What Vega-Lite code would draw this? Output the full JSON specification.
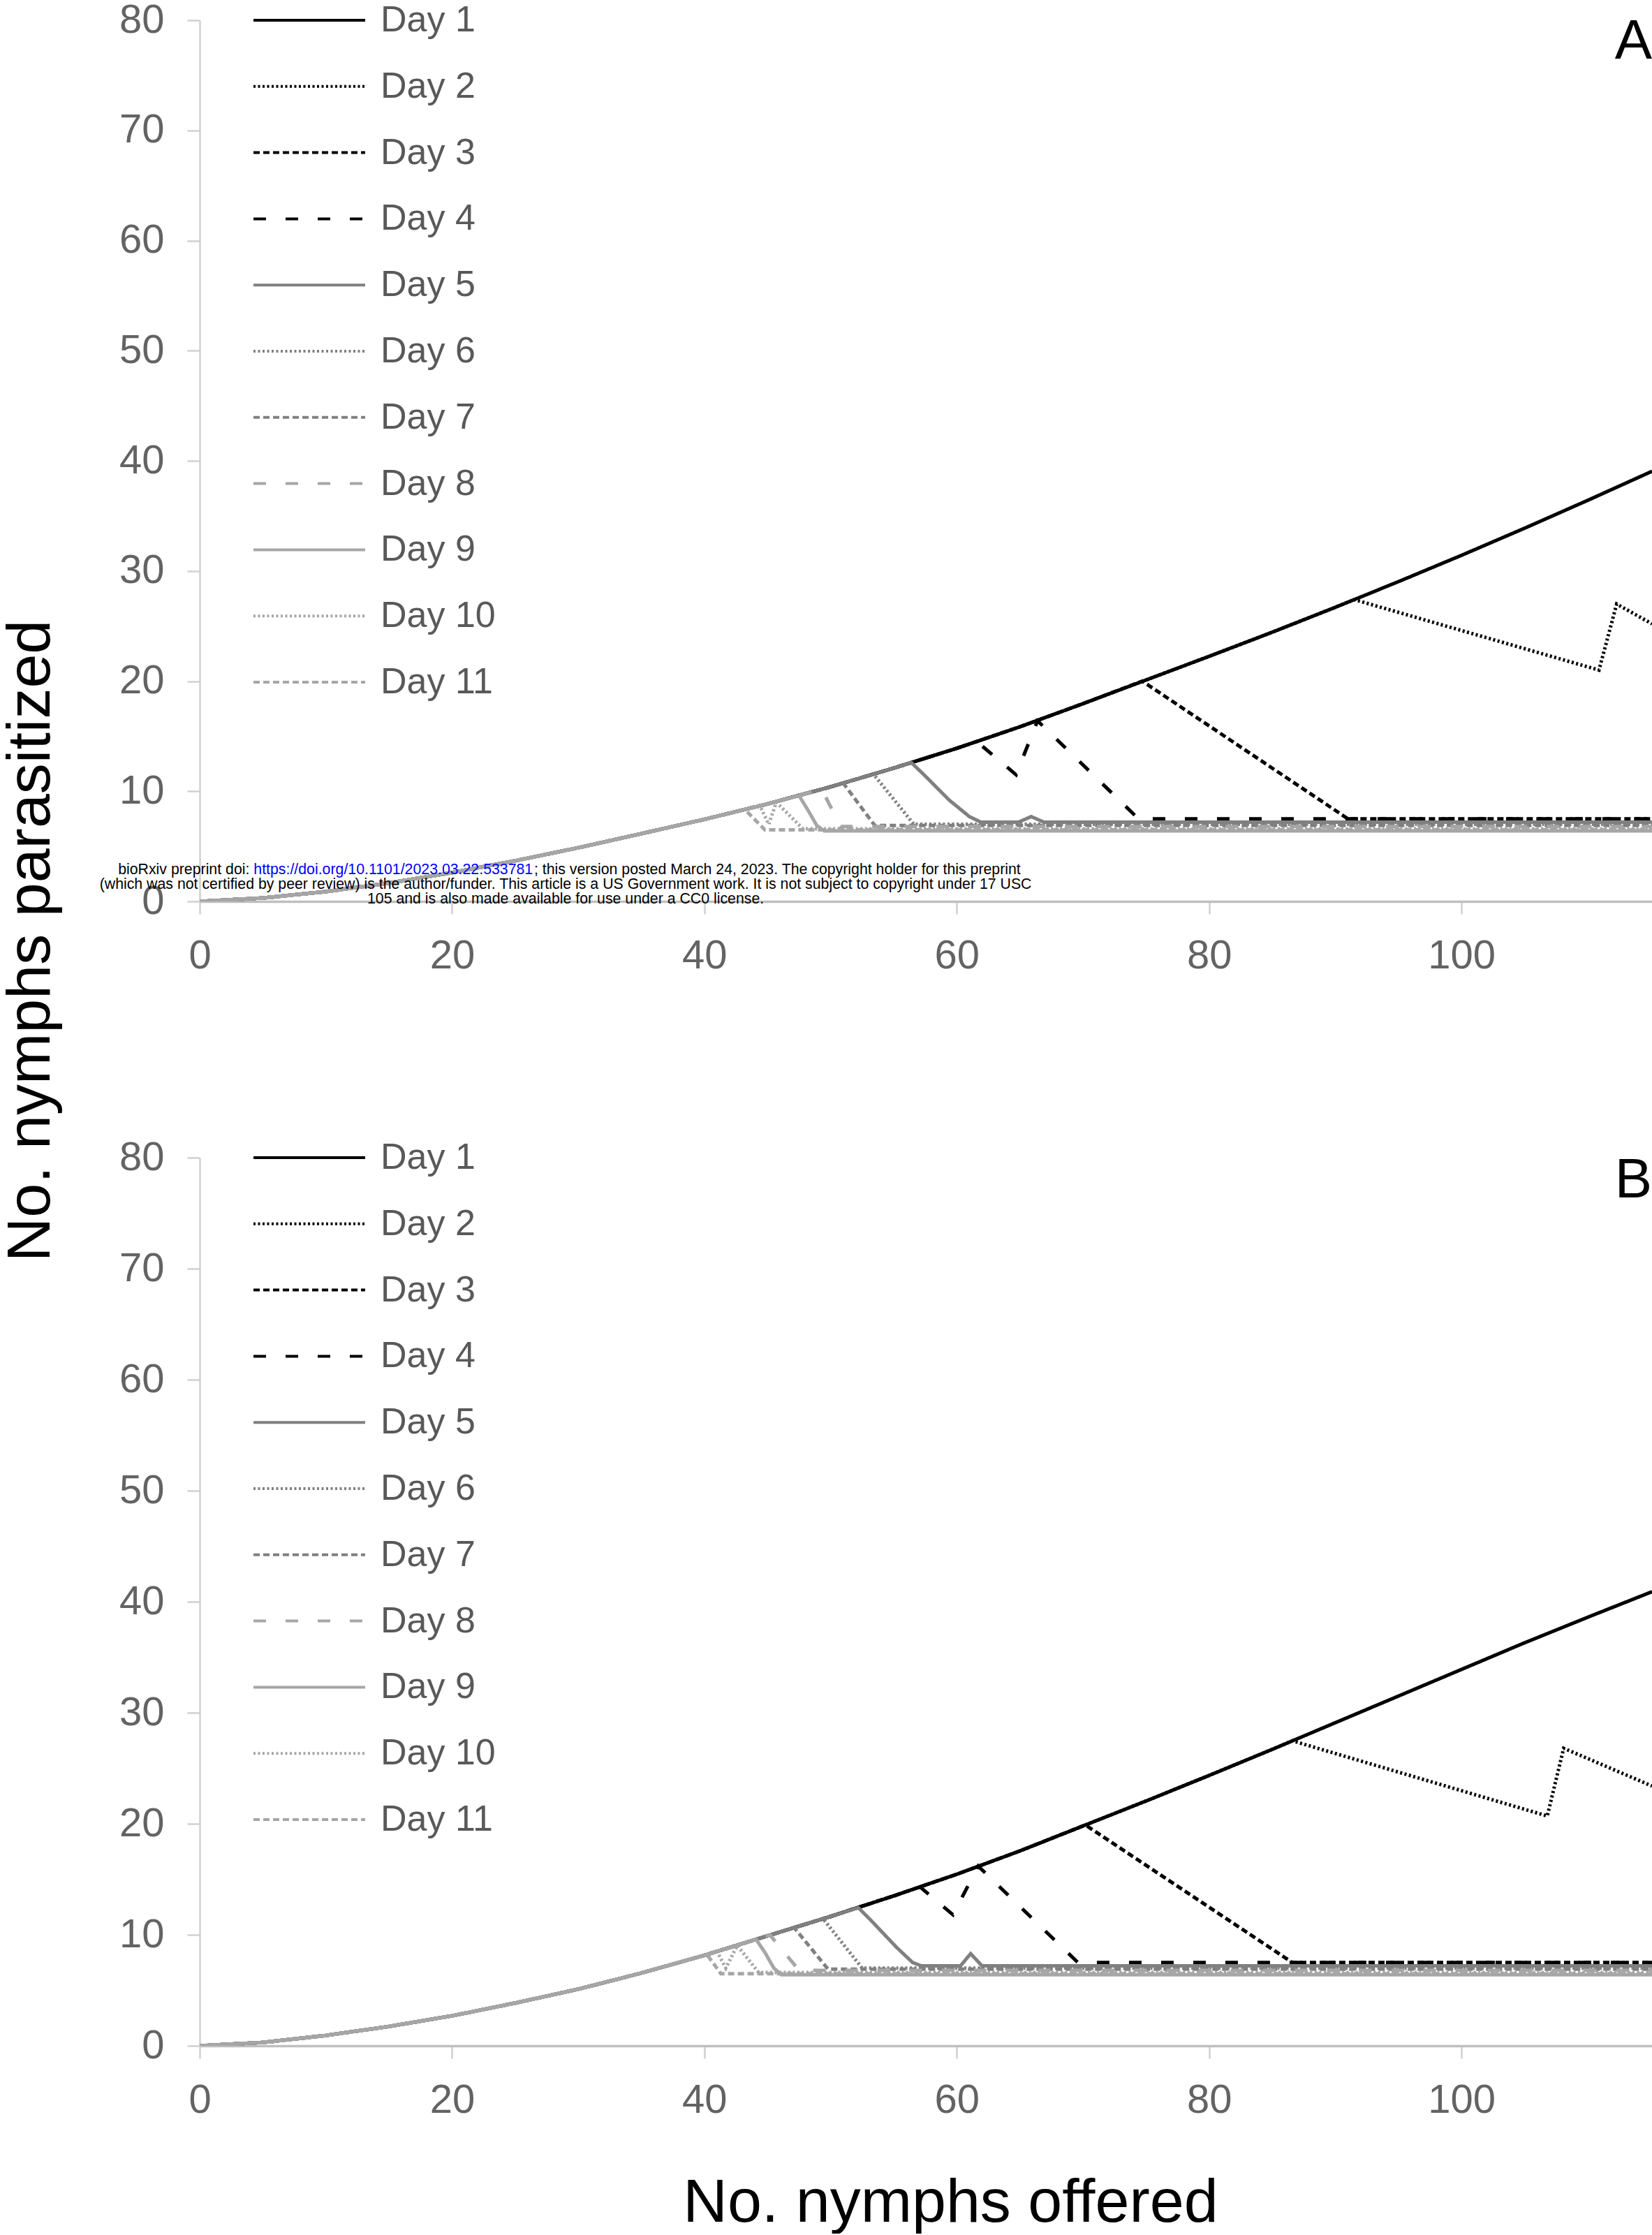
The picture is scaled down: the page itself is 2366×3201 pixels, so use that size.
{
  "$schema": "https://vega.github.io/schema/vega-lite/v6.json",
  "background": "white",
  "padding": 0,
  "autosize": {"type": "pad"},
  "config": {
    "font": "Liberation Sans",
    "view": {"stroke": null},
    "axis": {"grid": false, "labelFont": "Liberation Sans", "labelFontSize": 58, "labelColor": "#636363", "tickSize": 18, "tickColor": "#d0d0d0", "tickWidth": 2.5, "domainColor": "#d0d0d0", "domainWidth": 2.5, "titleFont": "Liberation Sans", "titleFontSize": 88, "titleFontWeight": "normal", "titleColor": "#000000", "labelFlush": false}
  },
  "datasets": {
    "series": [
      {"panel":"A","day":"Day 1","x":0,"y":0},{"panel":"A","day":"Day 1","x":5,"y":0.31},{"panel":"A","day":"Day 1","x":10,"y":0.89},{"panel":"A","day":"Day 1","x":15,"y":1.67},{"panel":"A","day":"Day 1","x":20,"y":2.61},{"panel":"A","day":"Day 1","x":25,"y":3.69},{"panel":"A","day":"Day 1","x":30,"y":4.87},{"panel":"A","day":"Day 1","x":35,"y":6.15},{"panel":"A","day":"Day 1","x":40,"y":7.45},{"panel":"A","day":"Day 1","x":45,"y":8.85},{"panel":"A","day":"Day 1","x":50,"y":10.4},{"panel":"A","day":"Day 1","x":55,"y":12.1},{"panel":"A","day":"Day 1","x":60,"y":13.9},{"panel":"A","day":"Day 1","x":65,"y":15.85},{"panel":"A","day":"Day 1","x":70,"y":17.95},{"panel":"A","day":"Day 1","x":75,"y":20.1},{"panel":"A","day":"Day 1","x":80,"y":22.25},{"panel":"A","day":"Day 1","x":85,"y":24.44},{"panel":"A","day":"Day 1","x":90,"y":26.7},{"panel":"A","day":"Day 1","x":95,"y":29.03},{"panel":"A","day":"Day 1","x":100,"y":31.42},{"panel":"A","day":"Day 1","x":105,"y":33.88},{"panel":"A","day":"Day 1","x":110,"y":36.41},{"panel":"A","day":"Day 1","x":115.1,"y":39.05},

      {"panel":"A","day":"Day 2","x":0,"y":0},{"panel":"A","day":"Day 2","x":5,"y":0.31},{"panel":"A","day":"Day 2","x":10,"y":0.89},{"panel":"A","day":"Day 2","x":15,"y":1.67},{"panel":"A","day":"Day 2","x":20,"y":2.61},{"panel":"A","day":"Day 2","x":25,"y":3.69},{"panel":"A","day":"Day 2","x":30,"y":4.87},{"panel":"A","day":"Day 2","x":35,"y":6.15},{"panel":"A","day":"Day 2","x":40,"y":7.45},{"panel":"A","day":"Day 2","x":45,"y":8.85},{"panel":"A","day":"Day 2","x":50,"y":10.4},{"panel":"A","day":"Day 2","x":55,"y":12.1},{"panel":"A","day":"Day 2","x":60,"y":13.9},{"panel":"A","day":"Day 2","x":65,"y":15.85},{"panel":"A","day":"Day 2","x":70,"y":17.95},{"panel":"A","day":"Day 2","x":75,"y":20.1},{"panel":"A","day":"Day 2","x":80,"y":22.25},{"panel":"A","day":"Day 2","x":85,"y":24.44},{"panel":"A","day":"Day 2","x":90,"y":26.7},{"panel":"A","day":"Day 2","x":91.5,"y":27.4},{"panel":"A","day":"Day 2","x":110.9,"y":21.0},{"panel":"A","day":"Day 2","x":112.3,"y":27.0},{"panel":"A","day":"Day 2","x":115.1,"y":25.2},

      {"panel":"A","day":"Day 3","x":0,"y":0},{"panel":"A","day":"Day 3","x":5,"y":0.31},{"panel":"A","day":"Day 3","x":10,"y":0.89},{"panel":"A","day":"Day 3","x":15,"y":1.67},{"panel":"A","day":"Day 3","x":20,"y":2.61},{"panel":"A","day":"Day 3","x":25,"y":3.69},{"panel":"A","day":"Day 3","x":30,"y":4.87},{"panel":"A","day":"Day 3","x":35,"y":6.15},{"panel":"A","day":"Day 3","x":40,"y":7.45},{"panel":"A","day":"Day 3","x":45,"y":8.85},{"panel":"A","day":"Day 3","x":50,"y":10.4},{"panel":"A","day":"Day 3","x":55,"y":12.1},{"panel":"A","day":"Day 3","x":60,"y":13.9},{"panel":"A","day":"Day 3","x":65,"y":15.85},{"panel":"A","day":"Day 3","x":70,"y":17.95},{"panel":"A","day":"Day 3","x":74.7,"y":20.0},{"panel":"A","day":"Day 3","x":91.0,"y":7.5},{"panel":"A","day":"Day 3","x":115.1,"y":7.5},

      {"panel":"A","day":"Day 4","x":0,"y":0},{"panel":"A","day":"Day 4","x":5,"y":0.31},{"panel":"A","day":"Day 4","x":10,"y":0.89},{"panel":"A","day":"Day 4","x":15,"y":1.67},{"panel":"A","day":"Day 4","x":20,"y":2.61},{"panel":"A","day":"Day 4","x":25,"y":3.69},{"panel":"A","day":"Day 4","x":30,"y":4.87},{"panel":"A","day":"Day 4","x":35,"y":6.15},{"panel":"A","day":"Day 4","x":40,"y":7.45},{"panel":"A","day":"Day 4","x":45,"y":8.85},{"panel":"A","day":"Day 4","x":50,"y":10.4},{"panel":"A","day":"Day 4","x":55,"y":12.1},{"panel":"A","day":"Day 4","x":60,"y":13.9},{"panel":"A","day":"Day 4","x":61.6,"y":14.5},{"panel":"A","day":"Day 4","x":64.7,"y":11.5},{"panel":"A","day":"Day 4","x":66.4,"y":16.4},{"panel":"A","day":"Day 4","x":74.4,"y":7.5},{"panel":"A","day":"Day 4","x":115.1,"y":7.5},

      {"panel":"A","day":"Day 5","x":0,"y":0},{"panel":"A","day":"Day 5","x":5,"y":0.31},{"panel":"A","day":"Day 5","x":10,"y":0.89},{"panel":"A","day":"Day 5","x":15,"y":1.67},{"panel":"A","day":"Day 5","x":20,"y":2.61},{"panel":"A","day":"Day 5","x":25,"y":3.69},{"panel":"A","day":"Day 5","x":30,"y":4.87},{"panel":"A","day":"Day 5","x":35,"y":6.15},{"panel":"A","day":"Day 5","x":40,"y":7.45},{"panel":"A","day":"Day 5","x":45,"y":8.85},{"panel":"A","day":"Day 5","x":50,"y":10.4},{"panel":"A","day":"Day 5","x":55,"y":12.1},{"panel":"A","day":"Day 5","x":56.4,"y":12.6},{"panel":"A","day":"Day 5","x":57.4,"y":11.5},{"panel":"A","day":"Day 5","x":59.4,"y":9.2},{"panel":"A","day":"Day 5","x":61.0,"y":7.7},{"panel":"A","day":"Day 5","x":61.9,"y":7.2},{"panel":"A","day":"Day 5","x":64.9,"y":7.2},{"panel":"A","day":"Day 5","x":65.9,"y":7.7},{"panel":"A","day":"Day 5","x":66.9,"y":7.2},{"panel":"A","day":"Day 5","x":115.1,"y":7.2},

      {"panel":"A","day":"Day 6","x":0,"y":0},{"panel":"A","day":"Day 6","x":5,"y":0.31},{"panel":"A","day":"Day 6","x":10,"y":0.89},{"panel":"A","day":"Day 6","x":15,"y":1.67},{"panel":"A","day":"Day 6","x":20,"y":2.61},{"panel":"A","day":"Day 6","x":25,"y":3.69},{"panel":"A","day":"Day 6","x":30,"y":4.87},{"panel":"A","day":"Day 6","x":35,"y":6.15},{"panel":"A","day":"Day 6","x":40,"y":7.45},{"panel":"A","day":"Day 6","x":45,"y":8.85},{"panel":"A","day":"Day 6","x":50,"y":10.4},{"panel":"A","day":"Day 6","x":53.4,"y":11.55},{"panel":"A","day":"Day 6","x":56.6,"y":7.0},{"panel":"A","day":"Day 6","x":115.1,"y":7.0},

      {"panel":"A","day":"Day 7","x":0,"y":0},{"panel":"A","day":"Day 7","x":5,"y":0.31},{"panel":"A","day":"Day 7","x":10,"y":0.89},{"panel":"A","day":"Day 7","x":15,"y":1.67},{"panel":"A","day":"Day 7","x":20,"y":2.61},{"panel":"A","day":"Day 7","x":25,"y":3.69},{"panel":"A","day":"Day 7","x":30,"y":4.87},{"panel":"A","day":"Day 7","x":35,"y":6.15},{"panel":"A","day":"Day 7","x":40,"y":7.45},{"panel":"A","day":"Day 7","x":45,"y":8.85},{"panel":"A","day":"Day 7","x":50,"y":10.4},{"panel":"A","day":"Day 7","x":51.0,"y":10.74},{"panel":"A","day":"Day 7","x":53.5,"y":6.9},{"panel":"A","day":"Day 7","x":115.1,"y":6.9},

      {"panel":"A","day":"Day 8","x":0,"y":0},{"panel":"A","day":"Day 8","x":5,"y":0.31},{"panel":"A","day":"Day 8","x":10,"y":0.89},{"panel":"A","day":"Day 8","x":15,"y":1.67},{"panel":"A","day":"Day 8","x":20,"y":2.61},{"panel":"A","day":"Day 8","x":25,"y":3.69},{"panel":"A","day":"Day 8","x":30,"y":4.87},{"panel":"A","day":"Day 8","x":35,"y":6.15},{"panel":"A","day":"Day 8","x":40,"y":7.45},{"panel":"A","day":"Day 8","x":45,"y":8.85},{"panel":"A","day":"Day 8","x":49.3,"y":10.18},{"panel":"A","day":"Day 8","x":50.8,"y":6.8},{"panel":"A","day":"Day 8","x":115.1,"y":6.8},

      {"panel":"A","day":"Day 9","x":0,"y":0},{"panel":"A","day":"Day 9","x":5,"y":0.31},{"panel":"A","day":"Day 9","x":10,"y":0.89},{"panel":"A","day":"Day 9","x":15,"y":1.67},{"panel":"A","day":"Day 9","x":20,"y":2.61},{"panel":"A","day":"Day 9","x":25,"y":3.69},{"panel":"A","day":"Day 9","x":30,"y":4.87},{"panel":"A","day":"Day 9","x":35,"y":6.15},{"panel":"A","day":"Day 9","x":40,"y":7.45},{"panel":"A","day":"Day 9","x":45,"y":8.85},{"panel":"A","day":"Day 9","x":47.5,"y":9.6},{"panel":"A","day":"Day 9","x":48.2,"y":8.3},{"panel":"A","day":"Day 9","x":48.9,"y":6.9},{"panel":"A","day":"Day 9","x":49.5,"y":6.4},{"panel":"A","day":"Day 9","x":115.1,"y":6.4},

      {"panel":"A","day":"Day 10","x":0,"y":0},{"panel":"A","day":"Day 10","x":5,"y":0.31},{"panel":"A","day":"Day 10","x":10,"y":0.89},{"panel":"A","day":"Day 10","x":15,"y":1.67},{"panel":"A","day":"Day 10","x":20,"y":2.61},{"panel":"A","day":"Day 10","x":25,"y":3.69},{"panel":"A","day":"Day 10","x":30,"y":4.87},{"panel":"A","day":"Day 10","x":35,"y":6.15},{"panel":"A","day":"Day 10","x":40,"y":7.45},{"panel":"A","day":"Day 10","x":44.4,"y":8.68},{"panel":"A","day":"Day 10","x":45.1,"y":7.0},{"panel":"A","day":"Day 10","x":45.7,"y":9.0},{"panel":"A","day":"Day 10","x":47.8,"y":6.6},{"panel":"A","day":"Day 10","x":115.1,"y":6.6},

      {"panel":"A","day":"Day 11","x":0,"y":0},{"panel":"A","day":"Day 11","x":5,"y":0.31},{"panel":"A","day":"Day 11","x":10,"y":0.89},{"panel":"A","day":"Day 11","x":15,"y":1.67},{"panel":"A","day":"Day 11","x":20,"y":2.61},{"panel":"A","day":"Day 11","x":25,"y":3.69},{"panel":"A","day":"Day 11","x":30,"y":4.87},{"panel":"A","day":"Day 11","x":35,"y":6.15},{"panel":"A","day":"Day 11","x":40,"y":7.45},{"panel":"A","day":"Day 11","x":43.2,"y":8.35},{"panel":"A","day":"Day 11","x":44.8,"y":6.5},{"panel":"A","day":"Day 11","x":115.1,"y":6.5},

      {"panel":"B","day":"Day 1","x":0,"y":0},{"panel":"B","day":"Day 1","x":5,"y":0.3},{"panel":"B","day":"Day 1","x":10,"y":0.93},{"panel":"B","day":"Day 1","x":15,"y":1.74},{"panel":"B","day":"Day 1","x":20,"y":2.7},{"panel":"B","day":"Day 1","x":25,"y":3.85},{"panel":"B","day":"Day 1","x":30,"y":5.1},{"panel":"B","day":"Day 1","x":35,"y":6.55},{"panel":"B","day":"Day 1","x":40,"y":8.15},{"panel":"B","day":"Day 1","x":45,"y":9.9},{"panel":"B","day":"Day 1","x":50,"y":11.65},{"panel":"B","day":"Day 1","x":55,"y":13.5},{"panel":"B","day":"Day 1","x":60,"y":15.45},{"panel":"B","day":"Day 1","x":65,"y":17.55},{"panel":"B","day":"Day 1","x":70,"y":19.8},{"panel":"B","day":"Day 1","x":75,"y":22.05},{"panel":"B","day":"Day 1","x":80,"y":24.35},{"panel":"B","day":"Day 1","x":85,"y":26.7},{"panel":"B","day":"Day 1","x":90,"y":29.1},{"panel":"B","day":"Day 1","x":95,"y":31.5},{"panel":"B","day":"Day 1","x":100,"y":33.9},{"panel":"B","day":"Day 1","x":105,"y":36.3},{"panel":"B","day":"Day 1","x":110,"y":38.6},{"panel":"B","day":"Day 1","x":115.1,"y":40.9},

      {"panel":"B","day":"Day 2","x":0,"y":0},{"panel":"B","day":"Day 2","x":5,"y":0.3},{"panel":"B","day":"Day 2","x":10,"y":0.93},{"panel":"B","day":"Day 2","x":15,"y":1.74},{"panel":"B","day":"Day 2","x":20,"y":2.7},{"panel":"B","day":"Day 2","x":25,"y":3.85},{"panel":"B","day":"Day 2","x":30,"y":5.1},{"panel":"B","day":"Day 2","x":35,"y":6.55},{"panel":"B","day":"Day 2","x":40,"y":8.15},{"panel":"B","day":"Day 2","x":45,"y":9.9},{"panel":"B","day":"Day 2","x":50,"y":11.65},{"panel":"B","day":"Day 2","x":55,"y":13.5},{"panel":"B","day":"Day 2","x":60,"y":15.45},{"panel":"B","day":"Day 2","x":65,"y":17.55},{"panel":"B","day":"Day 2","x":70,"y":19.8},{"panel":"B","day":"Day 2","x":75,"y":22.05},{"panel":"B","day":"Day 2","x":80,"y":24.35},{"panel":"B","day":"Day 2","x":85,"y":26.7},{"panel":"B","day":"Day 2","x":86.6,"y":27.47},{"panel":"B","day":"Day 2","x":106.8,"y":20.7},{"panel":"B","day":"Day 2","x":108.1,"y":26.8},{"panel":"B","day":"Day 2","x":115.1,"y":23.4},

      {"panel":"B","day":"Day 3","x":0,"y":0},{"panel":"B","day":"Day 3","x":5,"y":0.3},{"panel":"B","day":"Day 3","x":10,"y":0.93},{"panel":"B","day":"Day 3","x":15,"y":1.74},{"panel":"B","day":"Day 3","x":20,"y":2.7},{"panel":"B","day":"Day 3","x":25,"y":3.85},{"panel":"B","day":"Day 3","x":30,"y":5.1},{"panel":"B","day":"Day 3","x":35,"y":6.55},{"panel":"B","day":"Day 3","x":40,"y":8.15},{"panel":"B","day":"Day 3","x":45,"y":9.9},{"panel":"B","day":"Day 3","x":50,"y":11.65},{"panel":"B","day":"Day 3","x":55,"y":13.5},{"panel":"B","day":"Day 3","x":60,"y":15.45},{"panel":"B","day":"Day 3","x":65,"y":17.55},{"panel":"B","day":"Day 3","x":70,"y":19.8},{"panel":"B","day":"Day 3","x":70.2,"y":19.89},{"panel":"B","day":"Day 3","x":86.6,"y":7.5},{"panel":"B","day":"Day 3","x":115.1,"y":7.5},

      {"panel":"B","day":"Day 4","x":0,"y":0},{"panel":"B","day":"Day 4","x":5,"y":0.3},{"panel":"B","day":"Day 4","x":10,"y":0.93},{"panel":"B","day":"Day 4","x":15,"y":1.74},{"panel":"B","day":"Day 4","x":20,"y":2.7},{"panel":"B","day":"Day 4","x":25,"y":3.85},{"panel":"B","day":"Day 4","x":30,"y":5.1},{"panel":"B","day":"Day 4","x":35,"y":6.55},{"panel":"B","day":"Day 4","x":40,"y":8.15},{"panel":"B","day":"Day 4","x":45,"y":9.9},{"panel":"B","day":"Day 4","x":50,"y":11.65},{"panel":"B","day":"Day 4","x":55,"y":13.5},{"panel":"B","day":"Day 4","x":57.1,"y":14.3},{"panel":"B","day":"Day 4","x":59.7,"y":11.8},{"panel":"B","day":"Day 4","x":61.7,"y":16.18},{"panel":"B","day":"Day 4","x":69.6,"y":7.5},{"panel":"B","day":"Day 4","x":115.1,"y":7.5},

      {"panel":"B","day":"Day 5","x":0,"y":0},{"panel":"B","day":"Day 5","x":5,"y":0.3},{"panel":"B","day":"Day 5","x":10,"y":0.93},{"panel":"B","day":"Day 5","x":15,"y":1.74},{"panel":"B","day":"Day 5","x":20,"y":2.7},{"panel":"B","day":"Day 5","x":25,"y":3.85},{"panel":"B","day":"Day 5","x":30,"y":5.1},{"panel":"B","day":"Day 5","x":35,"y":6.55},{"panel":"B","day":"Day 5","x":40,"y":8.15},{"panel":"B","day":"Day 5","x":45,"y":9.9},{"panel":"B","day":"Day 5","x":50,"y":11.65},{"panel":"B","day":"Day 5","x":52.2,"y":12.44},{"panel":"B","day":"Day 5","x":53.2,"y":11.3},{"panel":"B","day":"Day 5","x":55.2,"y":8.9},{"panel":"B","day":"Day 5","x":56.5,"y":7.5},{"panel":"B","day":"Day 5","x":57.2,"y":7.2},{"panel":"B","day":"Day 5","x":60.3,"y":7.2},{"panel":"B","day":"Day 5","x":61.1,"y":8.3},{"panel":"B","day":"Day 5","x":62.0,"y":7.2},{"panel":"B","day":"Day 5","x":115.1,"y":7.2},

      {"panel":"B","day":"Day 6","x":0,"y":0},{"panel":"B","day":"Day 6","x":5,"y":0.3},{"panel":"B","day":"Day 6","x":10,"y":0.93},{"panel":"B","day":"Day 6","x":15,"y":1.74},{"panel":"B","day":"Day 6","x":20,"y":2.7},{"panel":"B","day":"Day 6","x":25,"y":3.85},{"panel":"B","day":"Day 6","x":30,"y":5.1},{"panel":"B","day":"Day 6","x":35,"y":6.55},{"panel":"B","day":"Day 6","x":40,"y":8.15},{"panel":"B","day":"Day 6","x":45,"y":9.9},{"panel":"B","day":"Day 6","x":49.4,"y":11.45},{"panel":"B","day":"Day 6","x":52.5,"y":7.0},{"panel":"B","day":"Day 6","x":115.1,"y":7.0},

      {"panel":"B","day":"Day 7","x":0,"y":0},{"panel":"B","day":"Day 7","x":5,"y":0.3},{"panel":"B","day":"Day 7","x":10,"y":0.93},{"panel":"B","day":"Day 7","x":15,"y":1.74},{"panel":"B","day":"Day 7","x":20,"y":2.7},{"panel":"B","day":"Day 7","x":25,"y":3.85},{"panel":"B","day":"Day 7","x":30,"y":5.1},{"panel":"B","day":"Day 7","x":35,"y":6.55},{"panel":"B","day":"Day 7","x":40,"y":8.15},{"panel":"B","day":"Day 7","x":45,"y":9.9},{"panel":"B","day":"Day 7","x":47.1,"y":10.66},{"panel":"B","day":"Day 7","x":49.8,"y":6.9},{"panel":"B","day":"Day 7","x":115.1,"y":6.9},

      {"panel":"B","day":"Day 8","x":0,"y":0},{"panel":"B","day":"Day 8","x":5,"y":0.3},{"panel":"B","day":"Day 8","x":10,"y":0.93},{"panel":"B","day":"Day 8","x":15,"y":1.74},{"panel":"B","day":"Day 8","x":20,"y":2.7},{"panel":"B","day":"Day 8","x":25,"y":3.85},{"panel":"B","day":"Day 8","x":30,"y":5.1},{"panel":"B","day":"Day 8","x":35,"y":6.55},{"panel":"B","day":"Day 8","x":40,"y":8.15},{"panel":"B","day":"Day 8","x":45,"y":9.9},{"panel":"B","day":"Day 8","x":45.2,"y":9.97},{"panel":"B","day":"Day 8","x":47.5,"y":6.8},{"panel":"B","day":"Day 8","x":115.1,"y":6.8},

      {"panel":"B","day":"Day 9","x":0,"y":0},{"panel":"B","day":"Day 9","x":5,"y":0.3},{"panel":"B","day":"Day 9","x":10,"y":0.93},{"panel":"B","day":"Day 9","x":15,"y":1.74},{"panel":"B","day":"Day 9","x":20,"y":2.7},{"panel":"B","day":"Day 9","x":25,"y":3.85},{"panel":"B","day":"Day 9","x":30,"y":5.1},{"panel":"B","day":"Day 9","x":35,"y":6.55},{"panel":"B","day":"Day 9","x":40,"y":8.15},{"panel":"B","day":"Day 9","x":44.1,"y":9.58},{"panel":"B","day":"Day 9","x":44.8,"y":8.4},{"panel":"B","day":"Day 9","x":45.5,"y":7.0},{"panel":"B","day":"Day 9","x":46.1,"y":6.4},{"panel":"B","day":"Day 9","x":115.1,"y":6.4},

      {"panel":"B","day":"Day 10","x":0,"y":0},{"panel":"B","day":"Day 10","x":5,"y":0.3},{"panel":"B","day":"Day 10","x":10,"y":0.93},{"panel":"B","day":"Day 10","x":15,"y":1.74},{"panel":"B","day":"Day 10","x":20,"y":2.7},{"panel":"B","day":"Day 10","x":25,"y":3.85},{"panel":"B","day":"Day 10","x":30,"y":5.1},{"panel":"B","day":"Day 10","x":35,"y":6.55},{"panel":"B","day":"Day 10","x":40,"y":8.15},{"panel":"B","day":"Day 10","x":41.0,"y":8.49},{"panel":"B","day":"Day 10","x":41.7,"y":7.0},{"panel":"B","day":"Day 10","x":42.6,"y":9.04},{"panel":"B","day":"Day 10","x":44.3,"y":6.6},{"panel":"B","day":"Day 10","x":115.1,"y":6.6},

      {"panel":"B","day":"Day 11","x":0,"y":0},{"panel":"B","day":"Day 11","x":5,"y":0.3},{"panel":"B","day":"Day 11","x":10,"y":0.93},{"panel":"B","day":"Day 11","x":15,"y":1.74},{"panel":"B","day":"Day 11","x":20,"y":2.7},{"panel":"B","day":"Day 11","x":25,"y":3.85},{"panel":"B","day":"Day 11","x":30,"y":5.1},{"panel":"B","day":"Day 11","x":35,"y":6.55},{"panel":"B","day":"Day 11","x":40,"y":8.15},{"panel":"B","day":"Day 11","x":40.2,"y":8.22},{"panel":"B","day":"Day 11","x":41.3,"y":6.5},{"panel":"B","day":"Day 11","x":115.1,"y":6.5}
    ]
  },
  "bounds": "flush",
  "spacing": 367,
  "resolve": {"scale": {"color": "independent", "strokeDash": "independent"}, "legend": {"color": "independent", "strokeDash": "independent"}},
  "vconcat": [
    {
      "width": 2080,
      "height": 1262,
      "layer": [
        {
          "data": {"name": "series"},
          "transform": [{"filter": "datum.panel === 'A'"}],
          "mark": {"type": "line", "strokeWidth": 5, "clip": true},
          "encoding": {
            "x": {"field": "x", "type": "quantitative", "scale": {"domain": [0, 115.1], "nice": false, "zero": false}, "axis": {"values": [0, 20, 40, 60, 80, 100], "title": null, "labelPadding": 31, "domainColor": "#bfbfbf", "domainWidth": 3.5}},
            "y": {"field": "y", "type": "quantitative", "scale": {"domain": [0, 80], "nice": false}, "axis": {"values": [0, 10, 20, 30, 40, 50, 60, 70, 80], "labelPadding": 33, "title": "No. nymphs parasitized", "titleX": -198, "titleY": 1318, "titleAngle": 270, "titleAlign": "center", "titleBaseline": "bottom"}},
            "color": {"field": "day", "type": "nominal", "scale": {"domain": ["Day 1","Day 2","Day 3","Day 4","Day 5","Day 6","Day 7","Day 8","Day 9","Day 10","Day 11"], "range": ["#000000","#000000","#000000","#000000","#808080","#808080","#808080","#a6a6a6","#a6a6a6","#a6a6a6","#a6a6a6"]},
              "legend": {"title": null, "orient": "none", "legendX": 77, "legendY": -27, "padding": 0, "symbolType": "M-3.2,0H3.2", "symbolSize": 2500, "symbolStrokeWidth": 4, "symbolOffset": 53, "labelOffset": 75, "labelFontSize": 52, "labelColor": "#595959", "labelFont": "Liberation Sans", "labelLimit": 500, "rowPadding": 41.8}},
            "strokeDash": {"field": "day", "type": "nominal", "scale": {"domain": ["Day 1","Day 2","Day 3","Day 4","Day 5","Day 6","Day 7","Day 8","Day 9","Day 10","Day 11"], "range": [[1,0],[3,3.5],[9,5],[18,28],[1,0],[3,3.5],[9,5],[18,28],[1,0],[3,3.5],[9,5]]},
              "legend": {"title": null, "orient": "none", "legendX": 77, "legendY": -27, "padding": 0, "symbolType": "M-3.2,0H3.2", "symbolSize": 2500, "symbolStrokeWidth": 4, "symbolOffset": 53, "labelOffset": 75, "labelFontSize": 52, "labelColor": "#595959", "labelFont": "Liberation Sans", "labelLimit": 500, "rowPadding": 41.8}}
          }
        },
        {
          "data": {"values": [{"label": "A"}]},
          "mark": {"type": "text", "align": "right", "baseline": "alphabetic", "fontSize": 80, "font": "Liberation Sans", "color": "#000000"},
          "encoding": {"x": {"datum": 115.1}, "y": {"datum": 76.5}, "text": {"field": "label"}}
        },
        {
          "data": {"values": [{"label": "bioRxiv preprint doi:"}]},
          "mark": {"type": "text", "align": "right", "baseline": "middle", "fontSize": 21.3, "font": "Liberation Sans", "color": "#000000"},
          "encoding": {"x": {"datum": 3.95}, "y": {"datum": 2.85}, "text": {"field": "label"}}
        },
        {
          "data": {"values": [{"label": "https://doi.org/10.1101/2023.03.22.533781"}]},
          "mark": {"type": "text", "align": "left", "baseline": "middle", "fontSize": 21.3, "font": "Liberation Sans", "color": "#0000ff"},
          "encoding": {"x": {"datum": 4.28}, "y": {"datum": 2.85}, "text": {"field": "label"}}
        },
        {
          "data": {"values": [{"label": "; this version posted March 24, 2023. The copyright holder for this preprint"}]},
          "mark": {"type": "text", "align": "left", "baseline": "middle", "fontSize": 21.3, "font": "Liberation Sans", "color": "#000000"},
          "encoding": {"x": {"datum": 26.5}, "y": {"datum": 2.85}, "text": {"field": "label"}}
        },
        {
          "data": {"values": [{"label": "(which was not certified by peer review) is the author/funder. This article is a US Government work. It is not subject to copyright under 17 USC"}]},
          "mark": {"type": "text", "align": "center", "baseline": "middle", "fontSize": 21.3, "font": "Liberation Sans", "color": "#000000"},
          "encoding": {"x": {"datum": 29.0}, "y": {"datum": 1.52}, "text": {"field": "label"}}
        },
        {
          "data": {"values": [{"label": "105 and is also made available for use under a CC0 license."}]},
          "mark": {"type": "text", "align": "center", "baseline": "middle", "fontSize": 21.3, "font": "Liberation Sans", "color": "#000000"},
          "encoding": {"x": {"datum": 29.0}, "y": {"datum": 0.19}, "text": {"field": "label"}}
        }
      ]
    },
    {
      "width": 2080,
      "height": 1272,
      "layer": [
        {
          "data": {"name": "series"},
          "transform": [{"filter": "datum.panel === 'B'"}],
          "mark": {"type": "line", "strokeWidth": 5, "clip": true},
          "encoding": {
            "x": {"field": "x", "type": "quantitative", "scale": {"domain": [0, 115.1], "nice": false, "zero": false}, "axis": {"values": [0, 20, 40, 60, 80, 100], "labelPadding": 31, "domainColor": "#bfbfbf", "domainWidth": 3.5, "title": "No. nymphs offered", "titleX": 1075, "titleY": 251, "titleAlign": "center", "titleBaseline": "alphabetic"}},
            "y": {"field": "y", "type": "quantitative", "scale": {"domain": [0, 80], "nice": false}, "axis": {"values": [0, 10, 20, 30, 40, 50, 60, 70, 80], "labelPadding": 33, "title": null}},
            "color": {"field": "day", "type": "nominal", "scale": {"domain": ["Day 1","Day 2","Day 3","Day 4","Day 5","Day 6","Day 7","Day 8","Day 9","Day 10","Day 11"], "range": ["#000000","#000000","#000000","#000000","#808080","#808080","#808080","#a6a6a6","#a6a6a6","#a6a6a6","#a6a6a6"]},
              "legend": {"title": null, "orient": "none", "legendX": 77, "legendY": -27, "padding": 0, "symbolType": "M-3.2,0H3.2", "symbolSize": 2500, "symbolStrokeWidth": 4, "symbolOffset": 53, "labelOffset": 75, "labelFontSize": 52, "labelColor": "#595959", "labelFont": "Liberation Sans", "labelLimit": 500, "rowPadding": 41.8}},
            "strokeDash": {"field": "day", "type": "nominal", "scale": {"domain": ["Day 1","Day 2","Day 3","Day 4","Day 5","Day 6","Day 7","Day 8","Day 9","Day 10","Day 11"], "range": [[1,0],[3,3.5],[9,5],[18,28],[1,0],[3,3.5],[9,5],[18,28],[1,0],[3,3.5],[9,5]]},
              "legend": {"title": null, "orient": "none", "legendX": 77, "legendY": -27, "padding": 0, "symbolType": "M-3.2,0H3.2", "symbolSize": 2500, "symbolStrokeWidth": 4, "symbolOffset": 53, "labelOffset": 75, "labelFontSize": 52, "labelColor": "#595959", "labelFont": "Liberation Sans", "labelLimit": 500, "rowPadding": 41.8}}
          }
        },
        {
          "data": {"values": [{"label": "B"}]},
          "mark": {"type": "text", "align": "right", "baseline": "alphabetic", "fontSize": 80, "font": "Liberation Sans", "color": "#000000"},
          "encoding": {"x": {"datum": 115.1}, "y": {"datum": 76.4}, "text": {"field": "label"}}
        }
      ]
    }
  ]
}
